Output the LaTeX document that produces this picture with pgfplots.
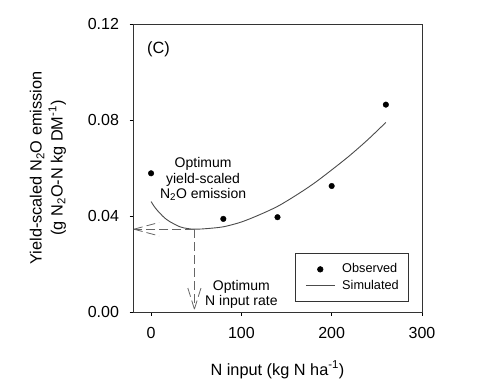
\documentclass[border=0pt]{standalone}
\usepackage{pgfplots}
\pgfplotsset{compat=1.18}
\usepackage{fontspec}
\setmainfont{Liberation Sans}
\pgfplotsset{
  dotleg/.style={legend image code/.code={\path (0bp,0bp) (29bp,0bp); \draw[##1] plot coordinates {(14.5bp,0bp)};}},
  lineleg/.style={legend image code/.code={\draw[##1] (0bp,0bp) -- (29bp,0bp);}},
}
\begin{document}
\begin{tikzpicture}
\path[use as bounding box] (0,0) rectangle (480bp,384bp);
\begin{axis}[
  at={(133bp,72bp)}, anchor=south west,
  scale only axis, width=289bp, height=288bp,
  xmin=-20, xmax=300, ymin=0, ymax=0.12,
  xtick={0,100,200,300}, ytick={0,0.04,0.08,0.12},
  tick pos=left, tick align=outside, major tick length=3.5bp,
  every tick/.style={black, line width=0.6bp},
  axis line style={line width=0.7bp, black!80},
  /pgf/number format/assume math mode=true,
  yticklabel={\pgfmathprintnumber[fixed,fixed zerofill,precision=2]{\tick}},
  xticklabel style={font=\fontsize{16bp}{18bp}\selectfont, yshift=-8bp},
  yticklabel style={font=\fontsize{16bp}{18bp}\selectfont, xshift=-7bp},
  scaled y ticks=false,
  xlabel={N input (kg N ha\textsuperscript{-1})},
  ylabel={Yield-scaled N\textsubscript{2}O emission\\(g N\textsubscript{2}O-N kg DM\textsuperscript{-1})},
  every axis x label/.style={at={(axis description cs:0.5,0)}, anchor=base, yshift=-63bp, font=\fontsize{16.3bp}{19bp}\selectfont},
  every axis y label/.style={at={(axis description cs:-0.294,0.5)}, anchor=center, rotate=90, align=center, font=\fontsize{16.3bp}{21bp}\selectfont},
  legend style={at={(axis description cs:0.955,0.2038)}, anchor=north east,
    draw=black!80, line width=0.6bp, inner xsep=10bp, inner ysep=10bp,
    font=\fontsize{12.7bp}{15bp}\selectfont,
    nodes={inner xsep=0bp, inner ysep=0bp, text height=9bp, text depth=2.5bp},
    row sep=5bp, column sep=7bp},
  legend cell align=left,
  clip=false,
]
\addplot[only marks, mark=*, mark size=2.8bp, black, dotleg]
  coordinates {(0,0.0578) (80,0.0388) (140,0.0395) (200,0.0525) (260,0.0864)};
\addlegendentry{Observed}
\addplot[smooth, no marks, black!70, line width=0.9bp, lineleg]
  coordinates {(0,0.0460) (5,0.0432) (10,0.0411) (15,0.0392) (21,0.0376) (32,0.0355)
  (40,0.0348) (48,0.0345) (60,0.0347) (80,0.0355) (100,0.0375) (120,0.0405)
  (140,0.0440) (160,0.0485) (180,0.0535) (200,0.0592) (220,0.0652) (240,0.0718) (260,0.0790)};
\addlegendentry{Simulated}
\begin{scope}[black!60, line width=0.8bp, dash pattern=on 9bp off 4bp]
\draw (axis cs:48,0.0345) -- (axis cs:-19,0.0345);
\draw (axis cs:-19,0.0345) -- (axis cs:8.9,0.0373);
\draw (axis cs:-19,0.0345) -- (axis cs:8.9,0.0317);
\draw (axis cs:48,0.0345) -- (axis cs:48,0.0012);
\draw (axis cs:48,0.0012) -- (axis cs:40.3,0.0105);
\draw (axis cs:48,0.0012) -- (axis cs:55.7,0.0105);
\end{scope}
\node[font=\fontsize{16.3bp}{19bp}\selectfont] at (axis cs:8.3,0.1096) {(C)};
\node[align=center, font=\fontsize{14bp}{15.5bp}\selectfont] at (axis cs:57.6,0.0553)
  {Optimum\\yield-scaled\\N\textsubscript{2}O emission};
\node[align=center, font=\fontsize{14bp}{15.5bp}\selectfont] at (axis cs:100,0.0074)
  {Optimum\\N input rate};
\end{axis}
\end{tikzpicture}
\end{document}
